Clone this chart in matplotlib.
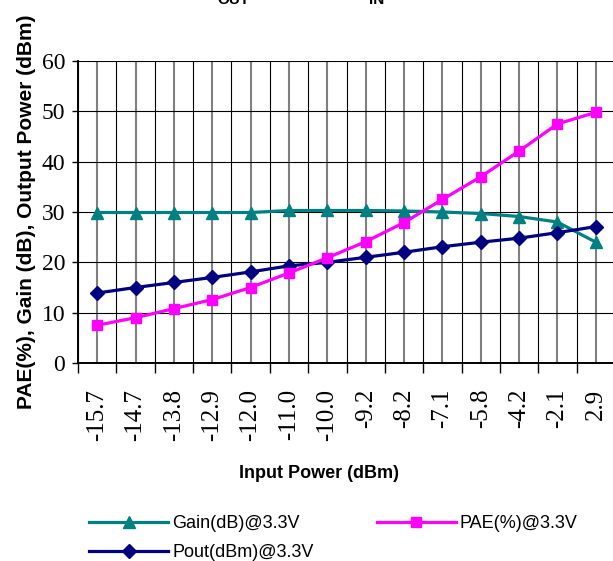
import matplotlib
matplotlib.use("Agg")
import matplotlib.pyplot as plt
import numpy as np

# input power points (dBm)
x_labels = ["-15.7", "-14.7", "-13.8", "-12.9", "-12.0", "-11.0", "-10.0",
            "-9.2", "-8.2", "-7.1", "-5.8", "-4.2", "-2.1", "2.9"]
gain = [29.9, 29.9, 29.9, 29.9, 29.9, 30.3, 30.3, 30.3, 30.2, 30.0,
        29.7, 29.1, 28.0, 24.0]
pae = [7.5, 9.0, 10.8, 12.6, 15.0, 17.9, 20.9, 24.1, 27.9, 32.5,
       37.0, 42.1, 47.5, 49.8]
pout = [13.9, 15.0, 16.0, 17.0, 18.1, 19.3, 20.0, 21.0, 22.0, 23.1,
        24.0, 24.8, 25.9, 27.1]

W, H = 613, 561
fig = plt.figure(figsize=(W / 100, H / 100), dpi=100)
ax = fig.add_axes([78 / W, 1 - 363 / H, (615 - 78) / W, (363 - 61) / H])

x = np.arange(len(x_labels))
l_gain, = ax.plot(x, gain, color="#008080", lw=2.3, marker="^", ms=9,
                  label="Gain(dB)@3.3V", zorder=4)
l_pout, = ax.plot(x, pout, color="#000080", lw=2.3, marker="D", ms=7,
                  label="Pout(dBm)@3.3V", zorder=4)
l_pae, = ax.plot(x, pae, color="#FF00FF", lw=2.3, marker="s", ms=7,
                 label="PAE(%)@3.3V", zorder=4)

ax.set_xlim(-0.5, len(x_labels) - 0.5)
ax.set_ylim(0, 60)

serif = "Liberation Serif"
sans = "Liberation Sans"

# category boundaries carry the ticks, centres carry the labels
ax.set_xticks(np.arange(len(x_labels) + 1) - 0.5)
ax.set_xticklabels([])
ax.set_xticks(x, minor=True)
ax.set_xticklabels(x_labels, minor=True, rotation=90, fontfamily=serif,
                   fontsize=18)
ax.tick_params(axis="x", which="major", direction="out", length=7.2,
               width=1, color="black")
ax.tick_params(axis="x", which="minor", length=0, pad=18.5)

ax.set_yticks(np.arange(0, 61, 10))
ax.set_yticklabels([str(v) for v in range(0, 61, 10)], fontfamily=serif,
                   fontsize=17)
ax.tick_params(axis="y", direction="out", length=4.3, width=1, pad=5)

ax.grid(axis="x", which="major", color="black", lw=0.8)
ax.grid(axis="x", which="minor", color="#808080", lw=1.5)
ax.grid(axis="y", which="major", color="black", lw=0.8)
ax.set_axisbelow(True)
for s in ["top", "right"]:
    ax.spines[s].set_visible(False)
ax.spines["left"].set_linewidth(1.4)
ax.spines["bottom"].set_linewidth(1.4)

ax.set_ylabel("PAE(%), Gain (dB), Output Power (dBm)", fontfamily=sans,
              fontweight="bold", fontsize=15, labelpad=4)
fig.text(319 / W, 1 - 474 / H, "Input Power (dBm)", fontfamily=sans,
         fontweight="bold", fontsize=13, ha="center", va="center")

# title sits mostly above the visible area, only subscripts show
fig.text(233 / W, 1 - 4 / H, "OUT", fontfamily=sans, fontweight="bold",
         fontsize=11, ha="center", va="baseline")
fig.text(377 / W, 1 - 4 / H, "IN", fontfamily=sans, fontweight="bold",
         fontsize=11, ha="center", va="baseline")

fig.legend(handles=[l_gain, l_pout, l_pae], ncol=2, frameon=False,
           loc="upper left", bbox_to_anchor=(89 / W, 1 - 515 / H),
           borderpad=0, borderaxespad=0, handlelength=4.4,
           handletextpad=0.2, columnspacing=3.5, labelspacing=0.68,
           prop={"family": sans, "size": 13})

fig.savefig("out.png", dpi=100)
